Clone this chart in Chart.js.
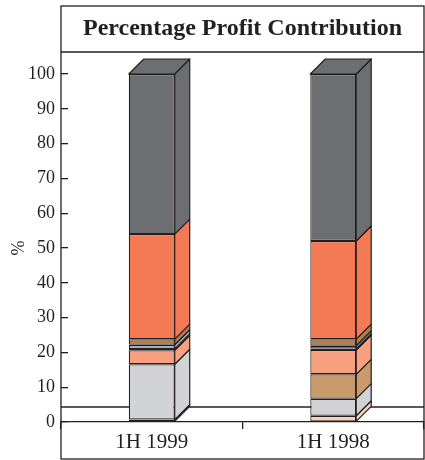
<!DOCTYPE html>
<html>
<head>
<meta charset="utf-8">
<title>Percentage Profit Contribution</title>
<script src="https://cdn.jsdelivr.net/npm/chart.js@4/dist/chart.umd.min.js"></script>
<style>
  html, body { margin: 0; padding: 0; background: #ffffff; }
  #wrap { width: 425px; height: 460px; position: relative; }
</style>
</head>
<body>
<div id="wrap"><canvas id="chart"></canvas></div>
<script>
// Periods on the category axis
const categories = ['1H 1999', '1H 1998'];

// Profit share per segment (%), stacked bottom to top
const peach     = [0.7, 1.8];
const lightGrey = [15.9, 4.9];
const tan       = [0, 7.0];
const salmon    = [4.0, 7.0];
const charcoal  = [0.4, 0.4];
const slate     = [1.2, 0.8];
const brown     = [1.6, 1.9];
const orange    = [30.2, 28.2];
const darkGrey  = [46.0, 48.0];

// Value axis tick labels
const yTickValues = [0, 10, 20, 30, 40, 50, 60, 70, 80, 90, 100];

const INK = '#231f20';
const SERIF = "'Liberation Serif', 'Times New Roman', serif";
const DX = 15, DY = 15;   // extrusion of the 3D blocks

const series = [
  { label: 'a', data: peach,     color: '#fbd0bb' },
  { label: 'b', data: lightGrey, color: '#d1d3d4' },
  { label: 'c', data: tan,       color: '#c99b6c' },
  { label: 'd', data: salmon,    color: '#f8a07f' },
  { label: 'e', data: charcoal,  color: '#3d3b3c' },
  { label: 'f', data: slate,     color: '#a9abae' },
  { label: 'g', data: brown,     color: '#b67c4a' },
  { label: 'h', data: orange,    color: '#f47a55' },
  { label: 'i', data: darkGrey,  color: '#6d6e71' }
];

function poly(ctx, pts, fill) {
  ctx.beginPath();
  ctx.moveTo(pts[0][0], pts[0][1]);
  for (let k = 1; k < pts.length; k++) ctx.lineTo(pts[k][0], pts[k][1]);
  ctx.closePath();
  ctx.fillStyle = fill;
  ctx.fill();
  ctx.stroke();
}

// Side and top faces of the stacked blocks, plus the back floor line
const depth3d = {
  id: 'depth3d',
  beforeDatasetsDraw(chart) {
    const { ctx, chartArea, scales } = chart;
    const yf = scales.y.getPixelForValue(0) - DY;
    ctx.save();
    ctx.strokeStyle = INK;
    ctx.lineWidth = 1.3;
    ctx.beginPath();
    ctx.moveTo(chartArea.left, yf);
    ctx.lineTo(chartArea.right, yf);
    ctx.stroke();
    ctx.restore();
  },
  afterDatasetsDraw(chart) {
    const { ctx } = chart;
    const n = chart.data.datasets.length;
    ctx.save();
    ctx.strokeStyle = INK;
    ctx.lineWidth = 1.2;
    ctx.lineJoin = 'round';
    chart.data.labels.forEach((_, i) => {
      let topEl = null, topColor = null;
      for (let d = 0; d < n; d++) {
        const el = chart.getDatasetMeta(d).data[i];
        const p = el.getProps(['x', 'y', 'base', 'width'], true);
        if (Math.abs(p.base - p.y) < 0.01) continue;
        const r = p.x + p.width / 2;
        const color = chart.data.datasets[d].backgroundColor;
        poly(ctx, [[r, p.y], [r + DX, p.y - DY], [r + DX, p.base - DY], [r, p.base]], color);
        topEl = p; topColor = color;
      }
      if (topEl) {
        const l = topEl.x - topEl.width / 2, r = topEl.x + topEl.width / 2;
        poly(ctx, [[l, topEl.y], [l + DX, topEl.y - DY], [r + DX, topEl.y - DY], [r, topEl.y]], topColor);
      }
    });
    ctx.restore();
  },
  afterDraw(chart) {
    const { ctx, chartArea } = chart;
    ctx.save();
    ctx.strokeStyle = INK;
    ctx.lineWidth = 1.3;
    ctx.strokeRect(chartArea.left, 6, chartArea.right - chartArea.left, 453);
    ctx.beginPath();
    ctx.moveTo(chartArea.left, 52);
    ctx.lineTo(chartArea.right, 52);
    ctx.stroke();
    ctx.restore();
  }
};

new Chart(document.getElementById('chart'), {
  type: 'bar',
  data: {
    labels: categories,
    datasets: series.map(s => ({
      label: s.label,
      data: s.data,
      backgroundColor: s.color,
      borderColor: INK,
      borderWidth: 1.2,
      borderSkipped: false,
      categoryPercentage: 1,
      barPercentage: 0.253,
      clip: false
    }))
  },
  options: {
    responsive: true,
    maintainAspectRatio: false,
    animation: false,
    layout: { padding: { top: 6, right: 1, left: 0, bottom: 0 } },
    plugins: {
      legend: { display: false },
      tooltip: { enabled: false },
      title: {
        display: true,
        fullSize: false,
        text: 'Percentage Profit Contribution',
        color: INK,
        font: { family: SERIF, size: 24, weight: 'bold', lineHeight: 1 },
        padding: { top: 11, bottom: 33 }
      }
    },
    scales: {
      x: {
        stacked: true,
        afterFit(s) { s.height = 38; },
        grid: { drawOnChartArea: false, offset: true, tickLength: 7, color: INK, lineWidth: 1.3 },
        border: { display: true, color: INK, width: 1.3 },
        ticks: { color: INK, padding: 1, font: { family: SERIF, size: 21 } }
      },
      y: {
        stacked: true,
        min: 0,
        max: 100,
        afterFit(s) { s.width = 61; },
        afterBuildTicks(s) { s.ticks = yTickValues.map(v => ({ value: v })); },
        grid: { drawOnChartArea: false, tickLength: -7, color: INK, lineWidth: 1.3 },
        border: { display: false },
        ticks: { color: INK, padding: 13, font: { family: SERIF, size: 18 } },
        title: {
          display: true,
          text: '%',
          color: INK,
          font: { family: SERIF, size: 18 },
          padding: { top: 8, bottom: 0 }
        }
      }
    }
  },
  plugins: [depth3d]
});
</script>
</body>
</html>
